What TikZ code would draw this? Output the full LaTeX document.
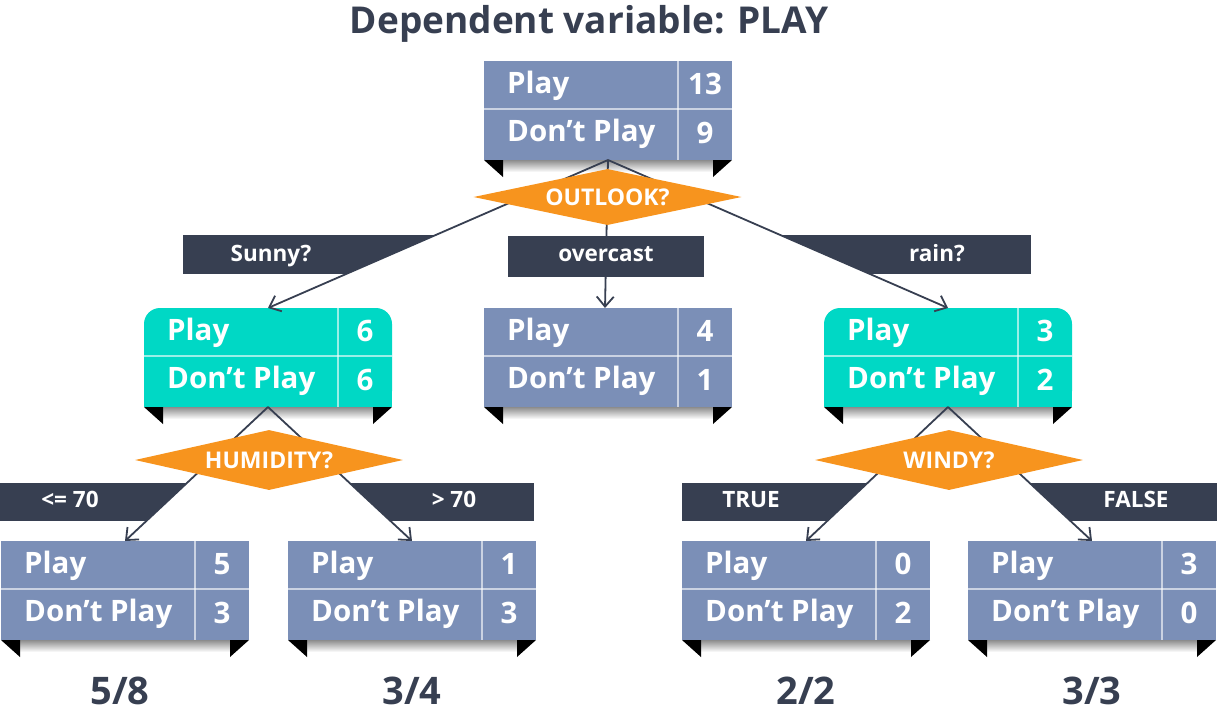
\documentclass[tikz,border=0pt]{standalone}
\usepackage{fontspec}
\setmainfont{Open Sans}
\usetikzlibrary{arrows.meta,shapes.geometric,calc}
\definecolor{boxblue}{RGB}{123,143,183}
\definecolor{tealc}{RGB}{0,216,197}
\definecolor{orangec}{RGB}{247,148,30}
\definecolor{darkc}{RGB}{55,63,81}
\tikzset{
  boxnode/.style={rectangle, anchor=north west, minimum width=248pt, minimum height=99pt, inner sep=0pt, outer sep=0pt},
  divline/.style={draw=white, draw opacity=0.6, line width=1.1pt},
  boxtext/.style={text=white, font=\fontsize{29.5}{29.5}\selectfont\bfseries, inner sep=0pt},
  conn/.style={draw=darkc, line width=1.8pt, -{Straight Barb[length=10pt,width=17pt,line width=1.8pt]}},
  dia/.style={diamond, fill=orangec, aspect=4.8, inner sep=0pt, minimum width=268pt, text=white, font=\fontsize{23}{23}\selectfont\bfseries},
  bandtext/.style={text=white, font=\fontsize{22.5}{22.5}\selectfont\bfseries, inner sep=0pt, anchor=base},
  fractext/.style={text=darkc, font=\fontsize{38}{38}\selectfont\bfseries, inner sep=0pt, anchor=base},
}
\newcommand\boxinner[3]{%
  \draw[divline] ($(#1.north west)+(0,48)$) -- ($(#1.north east)+(0,48)$);
  \draw[divline] ($(#1.north east)+(-54,0)$) -- ($(#1.south east)+(-54,0)$);
  \node[boxtext, anchor=base west] (#1-a) at ($(#1.north west)+(23,32)$) {Play};
  \node[boxtext, anchor=base west] (#1-b) at ($(#1.north west)+(23,80)$) {Don’t Play};
  \node[boxtext, anchor=base] (#1-an) at ($(#1.north east)+(-27,33)$) {#2};
  \node[boxtext, anchor=base] (#1-bn) at ($(#1.north east)+(-27,82)$) {#3};
  \shade[top color=black!45, bottom color=black!4] ($(#1.south west)+(19,0)$) rectangle ($(#1.south east)+(-19,11)$);
  \fill[black] (#1.south west) -- ++(19,0) -- ++(0,17) -- cycle;
  \fill[black] (#1.south east) -- ++(-19,0) -- ++(0,17) -- cycle;
}
\newcommand\plainbox[5]{%
  \node[boxnode, fill=boxblue] (#1) at (#2,#3) {};
  \boxinner{#1}{#4}{#5}}
\newcommand\roundbox[5]{%
  \node[boxnode, fill=tealc, rounded corners=16pt] (#1) at (#2,#3) {};
  \fill[tealc] (#1.west) rectangle (#1.south east);
  \boxinner{#1}{#4}{#5}}
\begin{document}
\begin{tikzpicture}[x=1pt,y=-1pt]
\useasboundingbox (0,0) rectangle (1217,716);
% title
\node[fractext, font=\fontsize{37}{37}\selectfont\bfseries] (title) at (589,33) {Dependent variable: PLAY};
% boxes
\plainbox{root}{484}{61}{13}{9}
\roundbox{sunny}{144}{308}{6}{6}
\plainbox{over}{484}{308}{4}{1}
\roundbox{rain}{824}{308}{3}{2}
\plainbox{le}{1}{541}{5}{3}
\plainbox{gt}{288}{541}{1}{3}
\plainbox{tb}{682}{541}{0}{2}
\plainbox{fb}{968}{541}{3}{0}
% connectors
\draw[conn] (root.south) -- (sunny.north);
\draw[conn] (root.south) -- ([xshift=-3pt]over.north);
\draw[conn] (root.south) -- (rain.north);
\draw[conn] (sunny.south) -- (le.north);
\draw[conn] (sunny.south) -- (gt.north);
\draw[conn] (rain.south) -- (tb.north);
\draw[conn] (rain.south) -- (fb.north);
% diamonds
\node[dia, minimum height=56pt] (outlook) at (607.5,197) {OUTLOOK?};
\node[dia, minimum height=60pt] (humid) at (269,460) {HUMIDITY?};
\node[dia, minimum height=60pt] (windy) at (949,460) {WINDY?};
% bands
\begin{scope}
  \clip (root.south) -- (sunny.north) -- (0,308) -- (0,160) -- cycle;
  \fill[darkc] (183,235) rectangle (460,274);
\end{scope}
\begin{scope}
  \clip (root.south) -- (rain.north) -- (1217,308) -- (1217,160) -- cycle;
  \fill[darkc] (760,235) rectangle (1031,274);
\end{scope}
\node[fill=darkc, minimum width=196pt, minimum height=41pt, inner sep=0pt] (overband) at (606,256) {};
\begin{scope}
  \clip (sunny.south) -- (le.north) -- (0,541) -- (0,407) -- cycle;
  \fill[darkc] (0,483) rectangle (230,521);
\end{scope}
\begin{scope}
  \clip (sunny.south) -- (gt.north) -- (1217,541) -- (1217,407) -- cycle;
  \fill[darkc] (310,483) rectangle (534,521);
\end{scope}
\begin{scope}
  \clip (rain.south) -- (tb.north) -- (0,541) -- (0,407) -- cycle;
  \fill[darkc] (682,483) rectangle (900,521);
\end{scope}
\begin{scope}
  \clip (rain.south) -- (fb.north) -- (1217,541) -- (1217,407) -- cycle;
  \fill[darkc] (1000,483) rectangle (1217,521);
\end{scope}
\node[bandtext] (lsunny) at (271,261) {Sunny?};
\node[bandtext] (lover) at (606,261) {overcast};
\node[bandtext] (lrain) at (937,261) {rain?};
\node[bandtext] (lle) at (70,507) {<= 70};
\node[bandtext] (lgt) at (454,507) {> 70};
\node[bandtext] (ltrue) at (751,507) {TRUE};
\node[bandtext] (lfalse) at (1136,507) {FALSE};
% fractions
\node[fractext] (f1) at (120,704) {5/8};
\node[fractext] (f2) at (412,704) {3/4};
\node[fractext] (f3) at (806,704) {2/2};
\node[fractext] (f4) at (1092,704) {3/3};
\end{tikzpicture}
\end{document}
